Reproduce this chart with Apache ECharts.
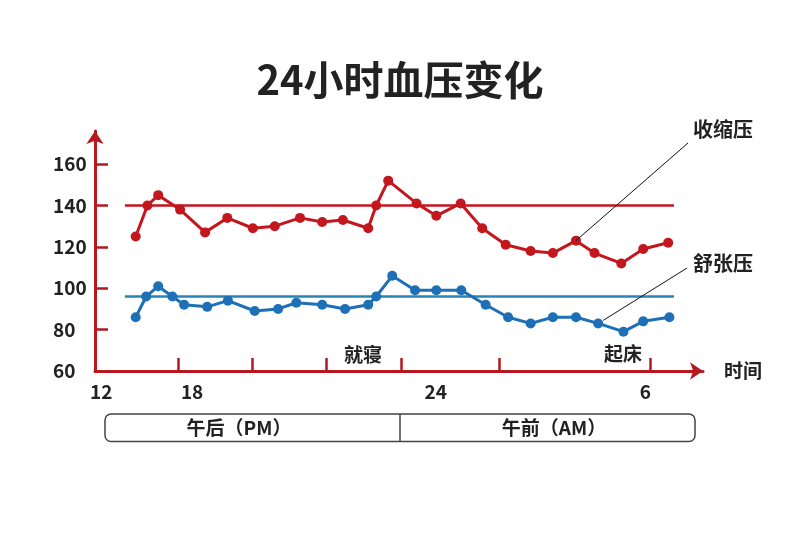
<!DOCTYPE html>
<html>
<head>
<meta charset="utf-8">
<script src="https://cdn.jsdelivr.net/npm/echarts@6/dist/echarts.min.js"></script>
<style>
  html, body { margin: 0; padding: 0; background: #fff; }
  #main { width: 800px; height: 533px; }
</style>
</head>
<body>
<div id="main"></div>
<script>
// 时间（小时，示意刻度）
const sysHours = [13.32, 13.70, 14.05, 14.76, 15.57, 16.29, 17.12, 17.83, 18.65, 19.37, 20.04, 20.86, 21.12,
  21.51, 22.43, 23.07, 23.86, 24.56, 25.32, 26.13, 26.85, 27.60, 28.20, 29.07, 29.78, 30.59];
const sysValues = [125, 140, 145, 138, 127, 134, 129, 130, 134, 132, 133, 129, 140,
  152, 141, 135, 141, 129, 121, 118, 117, 123, 117, 112, 119, 122];

const diaHours = [13.32, 13.66, 14.05, 14.51, 14.89, 15.64, 16.31, 17.18, 17.94, 18.53, 19.37, 20.11, 20.86, 21.12,
  21.64, 22.38, 23.07, 23.88, 24.67, 25.40, 26.13, 26.85, 27.60, 28.32, 29.14, 29.78, 30.63];
const diaValues = [86, 96, 101, 96, 92, 91, 94, 89, 90, 93, 92, 90, 92, 96,
  106, 99, 99, 99, 92, 86, 83, 86, 86, 83, 79, 84, 86];

// 参考线
const refRange = [12.97, 30.78];
const sysRef = 140;
const diaRef = 96;

// 坐标轴刻度
const xTickHours = [14.69, 17.09, 19.49, 21.93, 25.10, 30];
const xLabelHours = [12.2, 15.15, 23.05, 29.85];
const xLabelTexts = ['12', '18', '24', '6'];
const yTicks = [80, 100, 120, 140, 160];
const yLabels = [60, 80, 100, 120, 140, 160];

const RED = '#c3161d';
const AXIS_RED = '#b5191f';
const BLUE = '#1d6fb6';
const BLUE_REF = '#2784b4';
const TEXT = '#222';
const FONT = '"Noto Sans CJK SC", "Noto Sans", sans-serif';

const chart = echarts.init(document.getElementById('main'));

const option = {
  animation: false,
  backgroundColor: '#fff',
  textStyle: { fontFamily: FONT },
  title: {
    text: '24小时血压变化',
    left: 'center',
    top: 55,
    textStyle: { fontSize: 40, fontWeight: 'bold', color: TEXT, fontFamily: FONT }
  },
  grid: {
    left: 95,
    right: 97,
    top: 131,
    bottom: 162,
    containLabel: false,
    outerBoundsMode: 'none'
  },
  xAxis: {
    type: 'value',
    min: 12,
    max: 31.72,
    name: '时间',
    nameLocation: 'end',
    nameGap: 21,
    nameTextStyle: { fontSize: 19, fontWeight: 'bold', color: TEXT, fontFamily: FONT, padding: [0, 0, 8, 0] },
    axisLine: {
      show: true,
      onZero: false,
      symbol: ['none', 'arrow'],
      symbolSize: [13, 13],
      lineStyle: { color: AXIS_RED, width: 3 }
    },
    axisTick: {
      show: true,
      inside: true,
      length: 13,
      customValues: xTickHours,
      lineStyle: { color: AXIS_RED, width: 2.5 }
    },
    axisLabel: {
      customValues: xLabelHours,
      margin: 11,
      fontSize: 19,
      fontWeight: 'bold',
      color: TEXT,
      fontFamily: FONT,
      formatter: (v) => {
        let best = 0;
        xLabelHours.forEach((h, i) => {
          if (Math.abs(h - v) < Math.abs(xLabelHours[best] - v)) best = i;
        });
        return xLabelTexts[best];
      }
    },
    splitLine: { show: false }
  },
  yAxis: {
    type: 'value',
    min: 60,
    max: 176,
    axisLine: {
      show: true,
      onZero: false,
      symbol: ['none', 'arrow'],
      symbolSize: [13, 13],
      lineStyle: { color: AXIS_RED, width: 3 }
    },
    axisTick: {
      show: true,
      inside: true,
      length: 13,
      customValues: yTicks,
      lineStyle: { color: AXIS_RED, width: 2.5 }
    },
    axisLabel: {
      customValues: yLabels,
      align: 'left',
      margin: 42,
      fontSize: 19,
      fontWeight: 'bold',
      color: TEXT,
      fontFamily: FONT
    },
    splitLine: { show: false }
  },
  series: [
    {
      name: '收缩压基准',
      type: 'line',
      data: refRange.map(h => [h, sysRef]),
      symbol: 'none',
      lineStyle: { color: RED, width: 2.5 },
      z: 1
    },
    {
      name: '舒张压基准',
      type: 'line',
      data: refRange.map(h => [h, diaRef]),
      symbol: 'none',
      lineStyle: { color: BLUE_REF, width: 2.5 },
      z: 1
    },
    {
      name: '收缩压',
      type: 'line',
      data: sysHours.map((h, i) => [h, sysValues[i]]),
      symbol: 'circle',
      symbolSize: 10,
      itemStyle: { color: RED },
      lineStyle: { color: RED, width: 3 },
      z: 3
    },
    {
      name: '舒张压',
      type: 'line',
      data: diaHours.map((h, i) => [h, diaValues[i]]),
      symbol: 'circle',
      symbolSize: 10,
      itemStyle: { color: BLUE },
      lineStyle: { color: BLUE, width: 3 },
      z: 3
    }
  ],
  graphic: [
    {
      type: 'text', id: 'sleep', x: 363, y: 355,
      style: { text: '就寝', font: 'bold 19px ' + FONT, fill: TEXT, align: 'center', verticalAlign: 'middle' }
    },
    {
      type: 'text', id: 'wake', x: 623, y: 354,
      style: { text: '起床', font: 'bold 19px ' + FONT, fill: TEXT, align: 'center', verticalAlign: 'middle' }
    },
    {
      type: 'text', id: 'sysLabel', x: 723, y: 129,
      style: { text: '收缩压', font: 'bold 20px ' + FONT, fill: TEXT, align: 'center', verticalAlign: 'middle' }
    },
    {
      type: 'text', id: 'diaLabel', x: 723, y: 263,
      style: { text: '舒张压', font: 'bold 20px ' + FONT, fill: TEXT, align: 'center', verticalAlign: 'middle' }
    },
    {
      type: 'rect', id: 'periodBox',
      shape: { x: 105, y: 414, width: 590, height: 27.5, r: 6 },
      style: { fill: '#fff', stroke: '#444', lineWidth: 1.5 }
    },
    {
      type: 'line', id: 'periodDivider',
      shape: { x1: 400, y1: 414, x2: 400, y2: 441.5 },
      style: { stroke: '#444', lineWidth: 1.5 }
    },
    {
      type: 'text', id: 'pm', x: 239, y: 428,
      style: { text: '午后（PM）', font: 'bold 19px ' + FONT, fill: TEXT, align: 'center', verticalAlign: 'middle' }
    },
    {
      type: 'text', id: 'am', x: 554, y: 428,
      style: { text: '午前（AM）', font: 'bold 19px ' + FONT, fill: TEXT, align: 'center', verticalAlign: 'middle' }
    }
  ]
};

chart.setOption(option);

// 引线指向数据点
const sysPt = chart.convertToPixel({ seriesIndex: 2 }, [sysHours[21], sysValues[21]]);
const diaPt = chart.convertToPixel({ seriesIndex: 3 }, [diaHours[23], diaValues[23]]);
chart.setOption({
  graphic: [
    {
      type: 'line', id: 'sysLeader',
      shape: { x1: 688, y1: 143, x2: sysPt[0], y2: sysPt[1] },
      style: { stroke: '#111', lineWidth: 1 }, z: 10
    },
    {
      type: 'line', id: 'diaLeader',
      shape: { x1: 687, y1: 268, x2: diaPt[0] + 5, y2: diaPt[1] - 3 },
      style: { stroke: '#111', lineWidth: 1 }, z: 10
    }
  ]
});
</script>
</body>
</html>
